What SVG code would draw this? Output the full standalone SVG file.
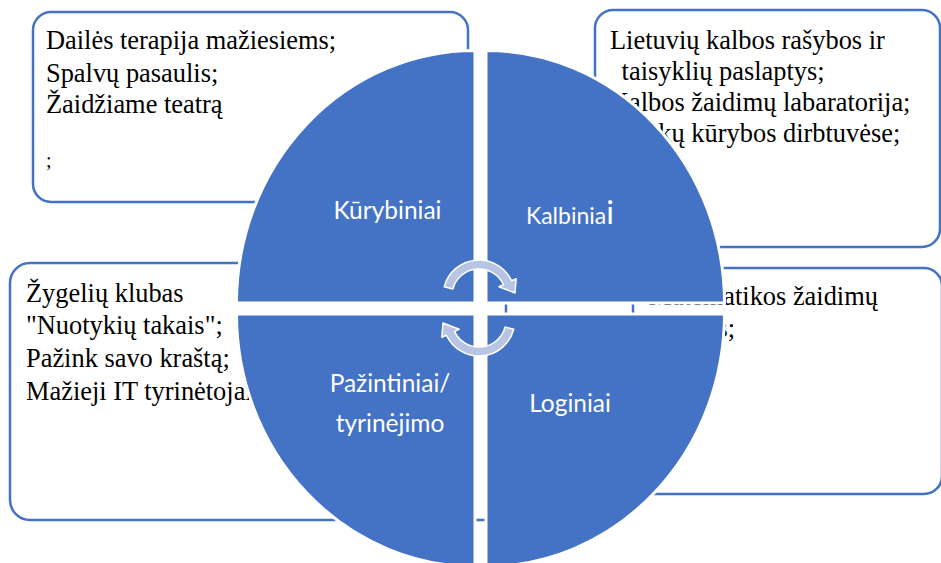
<svg xmlns="http://www.w3.org/2000/svg" width="941" height="563" viewBox="0 0 941 563">
<style>
.box{fill:#ffffff;stroke:#4472C4;stroke-width:2.5}
.bt{font-family:"Liberation Serif","Times New Roman",serif;font-size:26.4px;fill:#000000}
.q{fill:#4472C4;stroke:#ffffff;stroke-width:3}
.ql{font-family:Lato,"Open Sans",sans-serif;font-size:24.5px;fill:#ffffff;text-anchor:middle}
.arr{fill:#b7c4e4;stroke:#ffffff;stroke-width:1.5;stroke-linejoin:round}
</style>
<rect width="941" height="563" fill="#ffffff"/>
<g id="box-kurybiniai">
<rect class="box" x="33" y="12" width="435" height="190" rx="18"/>
<text class="bt"><tspan x="46" y="49">Dailės terapija mažiesiems;</tspan><tspan x="46" y="81.5">Spalvų pasaulis;</tspan><tspan x="46" y="113">Žaidžiame teatrą</tspan></text>
<text class="bt" x="46" y="167" style="font-size:20px">;</text>
</g>
<g id="box-kalbiniai">
<rect class="box" x="595" y="10" width="345" height="237" rx="18"/>
<text class="bt"><tspan x="610" y="48.5">Lietuvių kalbos rašybos ir</tspan><tspan x="615" y="80">  taisyklių paslaptys;</tspan><tspan x="610" y="110.5">Kalbos žaidimų labaratorija;</tspan><tspan x="610" y="141.5">Pasakų kūrybos dirbtuvėse;</tspan></text>
</g>
<g id="box-pazintiniai">
<rect class="box" x="10" y="263" width="496" height="257" rx="20"/>
<text class="bt"><tspan x="26" y="301.5">Žygelių klubas</tspan><tspan x="26" y="333.5">"Nuotykių takais";</tspan><tspan x="26" y="366.5">Pažink savo kraštą;</tspan><tspan x="26" y="399.5">Mažieji IT tyrinėtojai.</tspan></text>
</g>
<g id="box-loginiai">
<rect class="box" x="633" y="268" width="309" height="226" rx="18"/>
<text class="bt"><tspan x="648.5" y="305">Matematikos žaidimų</tspan><tspan x="648.5" y="337">miestas;</tspan></text>
</g>
<g id="q-kurybiniai">
<path class="q" d="M475,303 H236.5 A238.5,252.5 0 0 1 475,50.5 Z"/>
<text class="ql" x="387.5" y="219">Kūrybiniai</text>
</g>
<g id="q-kalbiniai">
<path class="q" d="M486,303 V50.5 A238.5,252.5 0 0 1 724.5,303 Z"/>
<text class="ql" x="526" y="224" style="text-anchor:start;font-size:23px">Kalbinia<tspan style="font-size:32px">i</tspan></text>
</g>
<g id="q-pazintiniai">
<path class="q" d="M475,314 V566.5 A238.5,252.5 0 0 1 236.5,314 Z"/>
<text class="ql" x="390" y="392">Pažintiniai/</text>
<text class="ql" x="390" y="432">tyrinėjimo</text>
</g>
<g id="q-loginiai">
<path class="q" d="M486,314 H724.5 A238.5,252.5 0 0 1 486,566.5 Z"/>
<text class="ql" x="570" y="412">Loginiai</text>
</g>
<g id="connectors">
<path id="arrow-top" class="arr" d="M444.2,286.7 A36,36 0 0 1 511.6,280.8 L516.2,278.7 L515,293 L498.9,286.7 L503.5,284.6 A27,27 0 0 0 452.9,289 Z"/>
<path id="arrow-bottom" class="arr" transform="rotate(180 479 308)" d="M444.2,286.7 A36,36 0 0 1 511.6,280.8 L516.2,278.7 L515,293 L498.9,286.7 L503.5,284.6 A27,27 0 0 0 452.9,289 Z"/>
</g>
</svg>
